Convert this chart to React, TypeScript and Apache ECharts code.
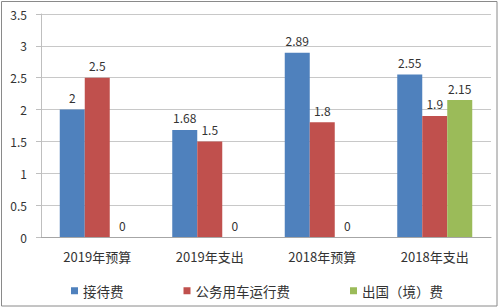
import React, { useEffect, useRef } from "react";
import * as echarts from "echarts";

const categories = ["2019年预算", "2019年支出", "2018年预算", "2018年支出"];
const seriesNames = ["接待费", "公务用车运行费", "出国（境）费"];
const reception = [2, 1.68, 2.89, 2.55];
const vehicle = [2.5, 1.5, 1.8, 1.9];
const abroad = [0, 0, 0, 2.15];
const colors = ["#4f81bd", "#c0504d", "#9bbb59"];

const FONT = "'Noto Sans CJK SC', 'Noto Sans', sans-serif";

export default function App() {
  const ref = useRef<HTMLDivElement>(null);

  useEffect(() => {
    document.body.style.margin = "0";
    if (!ref.current) return;
    const chart = echarts.init(ref.current, undefined, { renderer: "svg" });
    const values = [reception, vehicle, abroad];
    chart.setOption({
      animation: false,
      backgroundColor: "#ffffff",
      textStyle: { fontFamily: FONT },
      grid: { left: 41, right: 9, top: 14, bottom: 71 },
      legend: {
        data: seriesNames,
        top: 279,
        left: 66,
        itemWidth: 7,
        itemHeight: 7,
        itemGap: 60,
        icon: "rect",
        textStyle: { fontSize: 13.5, color: "#333", fontFamily: FONT },
      },
      graphic: [
        {
          type: "rect",
          shape: { x: 1.5, y: 1.5, width: 495.5, height: 304.5 },
          style: { fill: "none", stroke: "#8a8a8a", lineWidth: 1 },
          silent: true,
        },
      ],
      xAxis: {
        type: "category",
        data: categories,
        axisLine: { lineStyle: { color: "#a6a6a6" } },
        axisTick: { alignWithLabel: false, length: 5, lineStyle: { color: "#a6a6a6" } },
        axisLabel: { fontSize: 13, color: "#333", margin: 13, fontFamily: FONT },
      },
      yAxis: {
        type: "value",
        min: 0,
        max: 3.5,
        interval: 0.5,
        axisLine: { show: true, lineStyle: { color: "#bfbfbf" } },
        axisTick: { show: true, length: 5, lineStyle: { color: "#bfbfbf" } },
        axisLabel: { fontSize: 12, color: "#333", margin: 14, fontFamily: FONT },
        splitLine: { lineStyle: { color: "#c8c8c8" } },
      },
      series: seriesNames.map((name, i) => ({
        name,
        type: "bar",
        data: values[i],
        barWidth: 25,
        barGap: "0%",
        itemStyle: { color: colors[i] },
        label: {
          show: true,
          position: "top",
          distance: 6,
          fontSize: 12,
          color: "#333",
          fontFamily: FONT,
        },
      })),
    });
    return () => chart.dispose();
  }, []);

  return <div ref={ref} style={{ width: 500, height: 308 }} />;
}
